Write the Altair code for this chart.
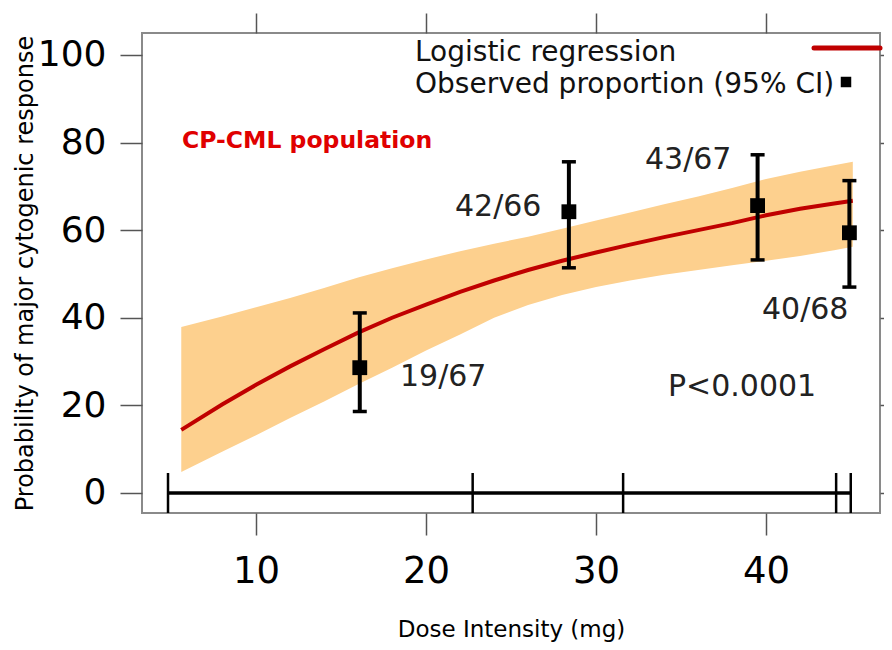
import altair as alt
import pandas as pd

# Logistic regression fit with 95% band
fit_x = [5.6, 8, 10, 12, 14, 16, 18, 20, 22, 24, 26, 28, 30, 32, 34, 36, 38, 40, 42, 44, 45.1]
fit_p = [14.4, 20.2, 24.7, 28.9, 32.8, 36.6, 40.0, 43.0, 45.9, 48.5, 50.9, 53.0, 54.9, 56.7,
         58.4, 60.0, 61.6, 63.4, 64.9, 66.1, 66.7]
band_hi = [37.9, 40.3, 42.4, 44.5, 46.8, 49.2, 51.3, 53.3, 55.2, 56.9, 58.5, 60.3, 62.2, 64.0,
           65.9, 67.7, 69.6, 71.7, 73.3, 74.8, 75.6]
band_lo = [4.8, 9.4, 13.2, 17.1, 20.9, 24.8, 28.6, 32.5, 36.2, 40.0, 42.9, 45.2, 47.0, 48.5,
           49.8, 50.9, 52.0, 53.0, 54.1, 55.4, 56.2]

# Observed proportions with 95% CI
obs_x = [16.1, 28.4, 39.5, 44.9]
obs_p = [28.6, 64.2, 65.6, 59.4]
obs_lo = [18.6, 51.4, 53.2, 47.0]
obs_hi = [41.1, 75.6, 77.2, 71.3]
obs_label = ["19/67", "42/66", "43/67", "40/68"]

# Dose-group boundaries on the baseline
rug_x = [4.82, 22.74, 31.59, 44.12, 44.98]

x_ticks = [10, 20, 30, 40]
y_ticks = [0, 20, 40, 60, 80, 100]

FONT = "DejaVu Sans"
W, H = 738, 480

fit_df = pd.DataFrame({"x": fit_x, "p": fit_p, "lo": band_lo, "hi": band_hi})
obs_df = pd.DataFrame({"x": obs_x, "p": obs_p, "lo": obs_lo, "hi": obs_hi, "label": obs_label})
rug_df = pd.DataFrame({"x": rug_x, "y": [0] * len(rug_x)})
base_df = pd.DataFrame({"x0": [min(rug_x)], "x1": [max(rug_x)], "y": [0]})
one = pd.DataFrame({"a": [0]})

xs = alt.Scale(domain=[3.29, 46.7], nice=False, zero=False)
ys = alt.Scale(domain=[-4.57, 105.0], nice=False, zero=False)

band = alt.Chart(fit_df).mark_area(color="#FDD08E", opacity=1).encode(
    x=alt.X("x:Q", scale=xs, axis=alt.Axis(
        orient="bottom", values=x_ticks, title="Dose Intensity (mg)", grid=False, domain=False,
        tickSize=22, tickWidth=1.5, tickColor="#555555", labelFontSize=37, labelFont=FONT,
        labelColor="black", labelPadding=18, titleFont=FONT, titleFontSize=23,
        titleFontWeight="normal", titleColor="black", titlePadding=29)),
    y=alt.Y("lo:Q", scale=ys, axis=alt.Axis(
        orient="left", values=y_ticks, title="Probability of major cytogenic response",
        grid=False, domain=False, tickSize=22, tickWidth=1.5, tickColor="#555555",
        labelFontSize=36, labelFont=FONT, labelColor="black", labelPadding=14,
        titleFont=FONT, titleFontSize=24, titleFontWeight="normal", titleColor="black",
        titlePadding=0)),
    y2="hi:Q",
)

line = alt.Chart(fit_df).mark_line(color="#C00000", strokeWidth=4).encode(
    x=alt.X("x:Q", scale=xs, axis=alt.Axis(
        orient="top", values=x_ticks, labels=False, title=None, grid=False, domain=False,
        tickSize=20, tickWidth=1.5, tickColor="#555555")),
    y=alt.Y("p:Q", scale=ys, axis=alt.Axis(
        orient="right", values=y_ticks, labels=False, title=None, grid=False, domain=False,
        tickSize=20, tickWidth=1.5, tickColor="#555555")),
)

baseline = alt.Chart(base_df).mark_rule(color="black", strokeWidth=3.5).encode(
    x=alt.X("x0:Q", scale=xs, axis=None), x2="x1:Q",
    y=alt.Y("y:Q", scale=ys, axis=None),
)

rug = alt.Chart(rug_df).mark_tick(color="black", orient="vertical", size=40,
                                  thickness=2.5, opacity=1).encode(
    x=alt.X("x:Q", scale=xs, axis=None),
    y=alt.Y("y:Q", scale=ys, axis=None),
)

bars = alt.Chart(obs_df).mark_rule(color="black", strokeWidth=4).encode(
    x=alt.X("x:Q", scale=xs, axis=None),
    y=alt.Y("lo:Q", scale=ys, axis=None), y2="hi:Q",
)
cap_lo = alt.Chart(obs_df).mark_tick(color="black", orient="horizontal", size=14,
                                     thickness=3.5, opacity=1).encode(
    x=alt.X("x:Q", scale=xs, axis=None),
    y=alt.Y("lo:Q", scale=ys, axis=None),
)
cap_hi = alt.Chart(obs_df).mark_tick(color="black", orient="horizontal", size=14,
                                     thickness=3.5, opacity=1).encode(
    x=alt.X("x:Q", scale=xs, axis=None),
    y=alt.Y("hi:Q", scale=ys, axis=None),
)
pts = alt.Chart(obs_df).mark_square(color="black", size=220, opacity=1).encode(
    x=alt.X("x:Q", scale=xs, axis=None),
    y=alt.Y("p:Q", scale=ys, axis=None),
)

# Annotation texts (pixel placement inside the plot area)
label_pos = [(400, 377), (455, 207), (645, 160), (762, 310)]
label_layers = []
for (px, py), txt in zip(label_pos, obs_label):
    label_layers.append(
        alt.Chart(one).mark_text(text=txt, font=FONT, fontSize=30, align="left",
                                 baseline="middle", color="#222222").encode(
            x=alt.value(px - 142), y=alt.value(py - 33))
    )

pval = alt.Chart(one).mark_text(text="P<0.0001", font=FONT, fontSize=30, align="left",
                                baseline="middle", color="#222222").encode(
    x=alt.value(668 - 142), y=alt.value(387 - 33))

pop = alt.Chart(one).mark_text(text="CP-CML population", font=FONT, fontSize=23.5,
                               fontWeight="bold", align="left", baseline="middle",
                               color="#E00000").encode(
    x=alt.value(182 - 142), y=alt.value(141 - 33))

leg1 = alt.Chart(one).mark_text(text="Logistic regression", font=FONT, fontSize=28,
                                align="left", baseline="middle", color="#111111").encode(
    x=alt.value(415 - 142), y=alt.value(53 - 33))
leg2 = alt.Chart(one).mark_text(text="Observed proportion (95% CI)", font=FONT, fontSize=28,
                                align="left", baseline="middle", color="#111111").encode(
    x=alt.value(415 - 142), y=alt.value(85 - 33))
leg_line = alt.Chart(one).mark_rule(color="#C00000", strokeWidth=5, strokeCap="round").encode(
    x=alt.value(814 - 142), x2=alt.value(W), y=alt.value(48 - 33))
leg_sq = alt.Chart(one).mark_square(color="black", size=110, opacity=1).encode(
    x=alt.value(846 - 142), y=alt.value(82 - 33))

chart = alt.layer(
    band, line, baseline, rug, bars, cap_lo, cap_hi, pts,
    *label_layers, pval, pop, leg1, leg2, leg_line, leg_sq,
).resolve_axis(x="independent", y="independent").properties(
    width=W, height=H,
    autosize=alt.AutoSizeParams(type="none"),
    padding={"left": 134, "top": 25, "right": 4, "bottom": 129},
).configure_view(stroke="#8a8a8a", strokeWidth=2)

chart.save("out.html", embed_options={"renderer": "svg", "actions": False})
